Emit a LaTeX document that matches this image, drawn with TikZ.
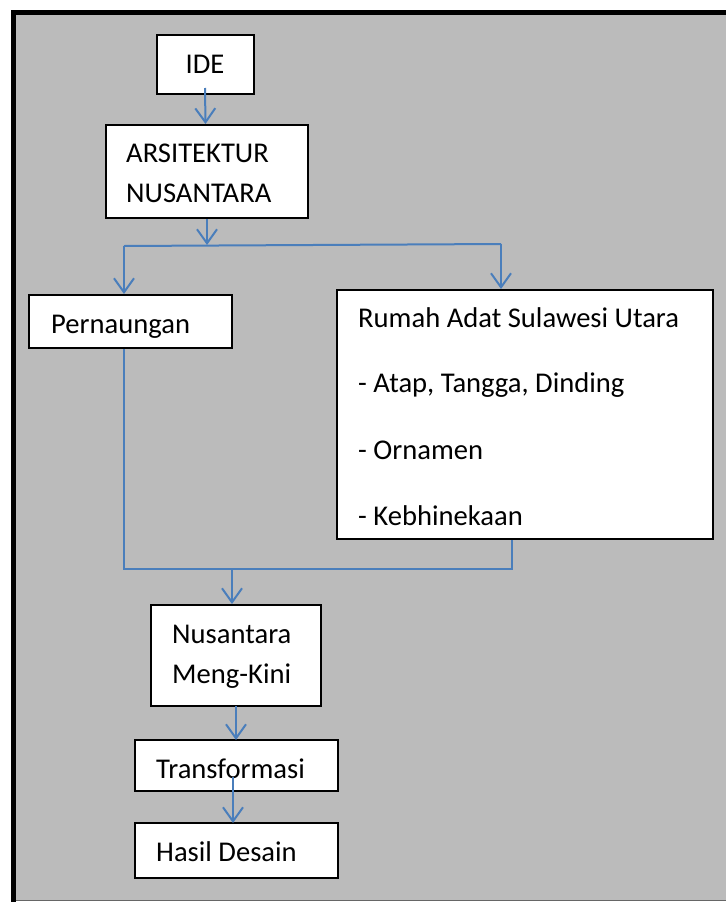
\documentclass[tikz,border=0pt]{standalone}
\usepackage{fontspec}
\setmainfont{Carlito}
\usetikzlibrary{arrows.meta}
\definecolor{bggray}{HTML}{BBBBBB}
\definecolor{linkblue}{HTML}{4A7EBB}
\tikzset{
  box/.style={draw=black, line width=2pt, fill=white, rectangle, inner sep=0pt},
  txt/.style={anchor=base west, inner sep=0pt, font=\fontsize{28.6}{38}\selectfont},
  link/.style={draw=linkblue, line width=2pt},
  arr/.style={link, -{Straight Barb[length=14pt, width=20pt, line width=2pt]}},
}
\begin{document}
\begin{tikzpicture}[x=1pt, y=-1pt]
\useasboundingbox (0,0) rectangle (726,902);
% frame
\fill[bggray] (16,15) rectangle (726,900);
\draw[gray!80!black, line width=1pt] (16,900) -- (726,900);
\draw[black, line width=5pt] (13.5,902) -- (13.5,12.5) -- (726,12.5);

% boxes
\node[box, minimum width=97pt, minimum height=59pt] (ide) at (205.5,64.5) {};
\node[box, minimum width=202pt, minimum height=93pt] (ars) at (207,171.5) {};
\node[box, minimum width=203pt, minimum height=53pt] (per) at (130.5,321.5) {};
\node[box, minimum width=376pt, minimum height=249pt] (rum) at (525,414.5) {};
\node[box, minimum width=170pt, minimum height=101pt] (nus) at (235.5,655.5) {};
\node[box, minimum width=203pt, minimum height=51pt] (tra) at (236.5,765.5) {};
\node[box, minimum width=203pt, minimum height=55pt] (has) at (236.5,850.5) {};

% texts
\node[txt, anchor=base] (tide) at (205,73) {IDE};
\node[txt] (tars1) at (126,162) {ARSITEKTUR};
\node[txt] (tars2) at (126,202) {NUSANTARA};
\node[txt] (tper) at (51,333) {Pernaungan};
\node[txt] (trum1) at (358,327) {Rumah Adat Sulawesi Utara};
\node[txt] (trum2) at (358,392) {- Atap, Tangga, Dinding};
\node[txt] (trum3) at (358,459) {- Ornamen};
\node[txt] (trum4) at (358,525) {- Kebhinekaan};
\node[txt] (tnus1) at (172,643) {Nusantara};
\node[txt] (tnus2) at (172,683) {Meng-Kini};
\node[txt] (ttra) at (156,778) {Transformasi};
\node[txt] (thas) at (156,861) {Hasil Desain};

% junction coordinates
\coordinate (j1) at (207,245);
\coordinate (jl) at (124,246);
\coordinate (jr) at (501,244);
\coordinate (m1) at (124,569);
\coordinate (m2) at (512,569);
\coordinate (mm) at (232,569);

% connectors
\draw[arr] (205,88) -- (ide.south |- ars.north);
\draw[arr] (ars.south) -- (j1);
\draw[link] (jl) -- (jr);
\draw[arr] (jl) -- (jl |- per.north);
\draw[arr] (jr) -- (jr |- rum.north);
\draw[link] (per.south -| m1) -- (m1) -- (m2) -- (m2 |- rum.south);
\draw[arr] (mm) -- (mm |- nus.north);
\draw[arr] (236,706) -- (236,740);
\draw[arr] (233,777) -- (233,823);
\end{tikzpicture}
\end{document}
